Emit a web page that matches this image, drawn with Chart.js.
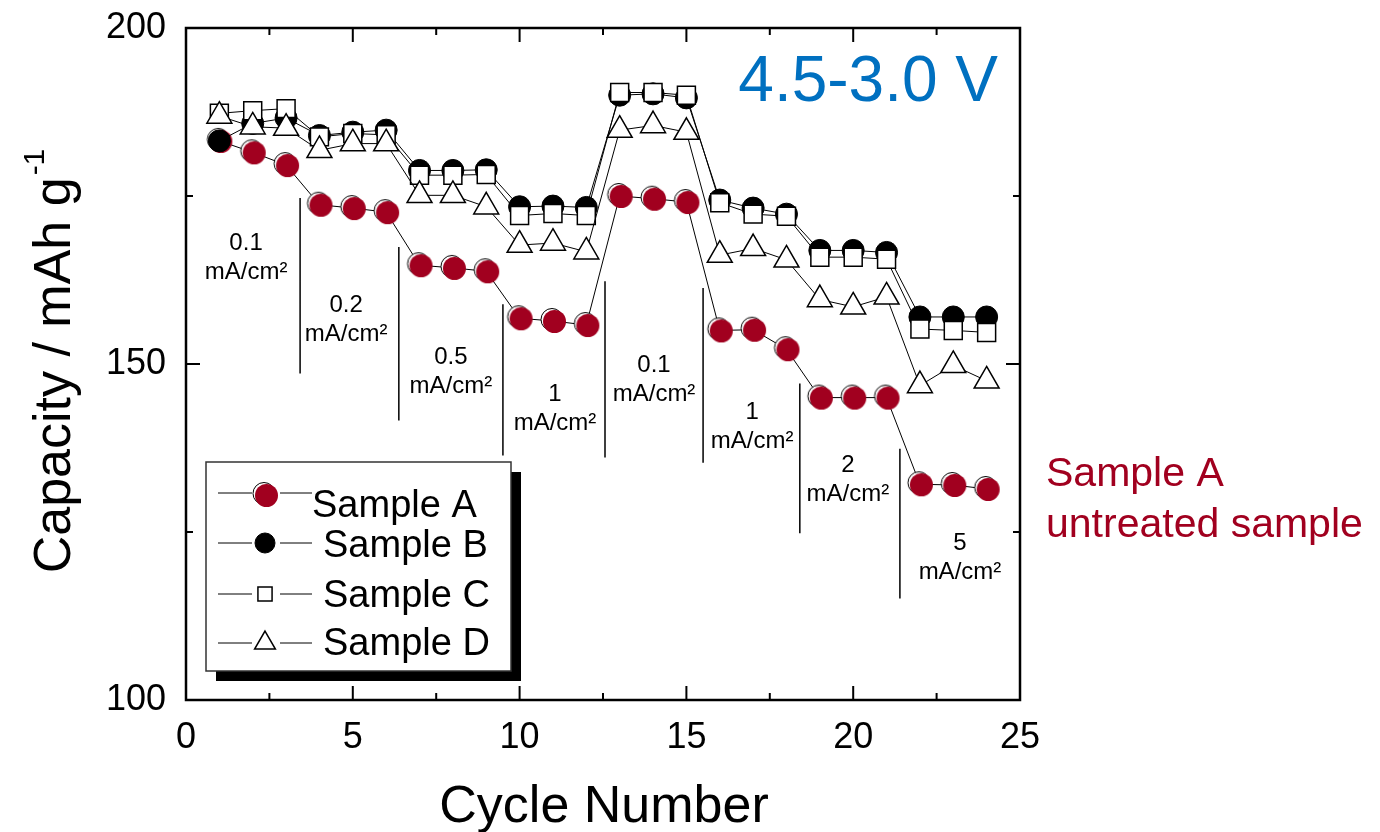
<!DOCTYPE html>
<html>
<head>
<title>Rate capability</title>
<script src="https://cdn.jsdelivr.net/npm/chart.js@4.4.0/dist/chart.umd.min.js"></script>
<style>
  body { margin: 0; background: #fff; }
</style>
</head>
<body>
<canvas id="rateChart" width="1380" height="832"></canvas>
<script>
// cycle numbers and capacities (mAh/g)
const cycles  = [1, 2, 3, 4, 5, 6, 7, 8, 9, 10, 11, 12, 13, 14, 15, 16, 17, 18, 19, 20, 21, 22, 23, 24];
const sampleA = [183.2, 181.5, 179.6, 173.7, 173.2, 172.6, 164.7, 164.3, 163.8, 156.8, 156.4, 155.8, 175.0, 174.6, 174.1, 155.0, 155.1, 152.2, 145.0, 145.0, 145.0, 132.1, 132.0, 131.4];
const sampleB = [183.2, 185.8, 186.6, 184.0, 184.5, 184.8, 178.8, 178.8, 178.9, 173.4, 173.5, 173.3, 190.0, 190.2, 189.6, 174.4, 173.2, 172.3, 166.9, 166.9, 166.6, 157.0, 157.0, 157.0];
const sampleC = [187.3, 187.7, 188.0, 183.8, 184.3, 184.1, 178.1, 178.1, 178.2, 172.1, 172.4, 172.1, 190.4, 190.4, 190.0, 174.0, 172.3, 172.0, 165.9, 165.9, 165.6, 155.2, 155.0, 154.7];
const sampleD = [186.9, 185.3, 185.1, 181.8, 182.8, 182.8, 175.1, 175.1, 173.4, 167.7, 168.0, 166.7, 184.8, 185.5, 184.5, 166.2, 167.2, 165.5, 159.6, 158.5, 160.0, 146.8, 149.8, 147.5];
const seriesNames = ['Sample A', 'Sample B', 'Sample C', 'Sample D'];

// x tick labels / y tick labels
const xTicks = [0, 5, 10, 15, 20, 25];
const yTicks = [100, 150, 200];

// current-density labels: text, and where they sit (cycle, capacity)
const rateLabels = ['0.1', '0.2', '0.5', '1', '0.1', '1', '2', '5'];
const rateLabelX = [1.8, 4.8, 7.94, 11.06, 14.03, 16.97, 19.84, 23.2];
const rateLabelY = [168.0, 158.7, 151.0, 145.5, 149.8, 142.8, 134.9, 123.3];
// vertical separators between rate steps
const dividerX      = [3.42, 6.38, 9.5, 12.56, 15.5, 18.4, 21.4];
const dividerTop    = [174.7, 167.4, 158.9, 162.3, 161.3, 147.1, 137.4];
const dividerBottom = [148.6, 141.6, 136.4, 136.1, 135.3, 124.8, 115.1];

const RED = '#A1001F';
const FONT = "'Liberation Sans', Arial, sans-serif";

// red dot with the offset outline behind it
function shadowDot() {
    const c = document.createElement('canvas');
    c.width = 36; c.height = 36;
    const g = c.getContext('2d');
    g.beginPath(); g.arc(17, 16.5, 11, 0, Math.PI * 2);
    g.fillStyle = '#fff'; g.fill();
    g.lineWidth = 1; g.strokeStyle = '#000'; g.stroke();
    g.beginPath(); g.arc(19.5, 18.5, 11.5, 0, Math.PI * 2);
    g.fillStyle = RED; g.fill();
    return c;
}
const redDot = shadowDot();

const toPts = arr => arr.map((v, i) => ({ x: cycles[i], y: v }));

const decor = {
    id: 'decor',
    afterDraw(chart) {
        const ctx = chart.ctx;
        const xs = chart.scales.x, ys = chart.scales.y;
        const a = chart.chartArea;
        ctx.save();

        // frame
        ctx.strokeStyle = '#000';
        ctx.lineWidth = 2.5;
        ctx.strokeRect(a.left, a.top, a.right - a.left, a.bottom - a.top);

        // inward ticks on all four sides
        ctx.lineWidth = 2;
        ctx.beginPath();
        for (let v = 0; v <= 25; v += 2.5) {
            const px = xs.getPixelForValue(v);
            const len = (v % 5 === 0) ? 14 : 7;
            ctx.moveTo(px, a.bottom); ctx.lineTo(px, a.bottom - len);
            ctx.moveTo(px, a.top); ctx.lineTo(px, a.top + len);
        }
        for (let v = 100; v <= 200; v += 25) {
            const py = ys.getPixelForValue(v);
            const len = (v % 50 === 0) ? 14 : 7;
            ctx.moveTo(a.left, py); ctx.lineTo(a.left + len, py);
            ctx.moveTo(a.right, py); ctx.lineTo(a.right - len, py);
        }
        ctx.stroke();

        // rate step separators
        ctx.lineWidth = 1.5;
        ctx.beginPath();
        dividerX.forEach((x, i) => {
            const px = xs.getPixelForValue(x);
            ctx.moveTo(px, ys.getPixelForValue(dividerTop[i]));
            ctx.lineTo(px, ys.getPixelForValue(dividerBottom[i]));
        });
        ctx.stroke();

        // rate labels
        ctx.fillStyle = '#000';
        ctx.textAlign = 'center';
        ctx.textBaseline = 'middle';
        ctx.font = '24px ' + FONT;
        rateLabels.forEach((t, i) => {
            const px = xs.getPixelForValue(rateLabelX[i]);
            const py = ys.getPixelForValue(rateLabelY[i]);
            ctx.fillText(t, px, py);
            ctx.fillText('mA/cm\u00B2', px, py + 29);
        });

        // voltage window
        ctx.fillStyle = '#0070C0';
        ctx.font = '64px ' + FONT;
        ctx.textAlign = 'right';
        ctx.textBaseline = 'alphabetic';
        ctx.fillText('4.5-3.0 V', 998, 101);

        // side note
        ctx.fillStyle = RED;
        ctx.font = '41px ' + FONT;
        ctx.textAlign = 'left';
        ctx.fillText('Sample A', 1046, 486);
        ctx.fillText('untreated sample', 1046, 537);

        // axis titles
        ctx.fillStyle = '#000';
        ctx.font = '52px ' + FONT;
        ctx.textAlign = 'center';
        ctx.fillText('Cycle Number', 604, 822);

        ctx.save();
        ctx.translate(70, 362);
        ctx.rotate(-Math.PI / 2);
        const main = 'Capacity / mAh g';
        ctx.font = '52px ' + FONT;
        const wMain = ctx.measureText(main).width;
        ctx.font = '30px ' + FONT;
        const wSup = ctx.measureText('-1').width;
        const start = -(wMain + wSup) / 2;
        ctx.textAlign = 'left';
        ctx.font = '52px ' + FONT;
        ctx.fillText(main, start, 0);
        ctx.font = '30px ' + FONT;
        ctx.fillText('-1', start + wMain + 2, -26);
        ctx.restore();

        // legend box with shadow
        const lx = 206, ly = 462, lw = 305, lh = 209;
        ctx.fillStyle = '#000';
        ctx.fillRect(lx + 10, ly + 10, lw, lh);
        ctx.fillStyle = '#fff';
        ctx.fillRect(lx, ly, lw, lh);
        ctx.strokeStyle = '#333';
        ctx.lineWidth = 1.5;
        ctx.strokeRect(lx, ly, lw, lh);

        const rows = [493, 543, 594, 643];
        const textX = [312, 323, 323, 323];
        const textY = [517, 557, 607, 655];
        chart.data.datasets.forEach((ds, i) => {
            const y = rows[i];
            ctx.strokeStyle = '#000';
            ctx.lineWidth = 1;
            ctx.beginPath();
            ctx.moveTo(218, y); ctx.lineTo(252, y);
            ctx.moveTo(280, y); ctx.lineTo(312, y);
            ctx.stroke();
            ctx.fillStyle = ds.pointBackgroundColor;
            ctx.strokeStyle = ds.pointBorderColor;
            ctx.lineWidth = ds.pointBorderWidth;
            Chart.helpers.drawPoint(ctx, {
                pointStyle: ds.pointStyle,
                radius: ds.legendRadius,
                borderWidth: ds.pointBorderWidth,
                rotation: 0
            }, 265, i === 0 ? y + 2 : y);
            ctx.fillStyle = '#000';
            ctx.font = '38px ' + FONT;
            ctx.textAlign = 'left';
            ctx.textBaseline = 'alphabetic';
            ctx.fillText(ds.label, textX[i], textY[i]);
        });

        ctx.restore();
    }
};

new Chart(document.getElementById('rateChart'), {
    type: 'line',
    data: {
        datasets: [
            {
                label: seriesNames[0], data: toPts(sampleA), order: 3,
                borderColor: '#000', borderWidth: 1,
                pointStyle: redDot, pointRadius: 12, legendRadius: 12,
                pointBackgroundColor: RED, pointBorderColor: RED, pointBorderWidth: 0
            },
            {
                label: seriesNames[1], data: toPts(sampleB), order: 2,
                borderColor: '#000', borderWidth: 1,
                pointStyle: 'circle', pointRadius: 11, legendRadius: 10,
                pointBackgroundColor: '#000', pointBorderColor: '#000', pointBorderWidth: 1
            },
            {
                label: seriesNames[2], data: toPts(sampleC), order: 1,
                borderColor: '#000', borderWidth: 1,
                pointStyle: 'rect', pointRadius: 12.7, legendRadius: 10,
                pointBackgroundColor: '#fff', pointBorderColor: '#000', pointBorderWidth: 1.5
            },
            {
                label: seriesNames[3], data: toPts(sampleD), order: 0,
                borderColor: '#000', borderWidth: 1,
                pointStyle: 'triangle', pointRadius: 14.4, legendRadius: 12,
                pointBackgroundColor: '#fff', pointBorderColor: '#000', pointBorderWidth: 1.5
            }
        ]
    },
    options: {
        responsive: false,
        animation: false,
        events: [],
        layout: { padding: { left: 0, top: 28, right: 360, bottom: 0 } },
        plugins: { legend: { display: false }, tooltip: { enabled: false } },
        scales: {
            x: {
                type: 'linear', min: 0, max: 25,
                grid: { display: false, drawTicks: false },
                border: { display: false },
                afterBuildTicks: s => { s.ticks = xTicks.map(v => ({ value: v })); },
                afterFit: s => { s.height = 132; s.paddingLeft = 0; s.paddingRight = 0; },
                ticks: { padding: 16, color: '#000', font: { family: FONT, size: 36 } }
            },
            y: {
                type: 'linear', min: 100, max: 200,
                grid: { display: false, drawTicks: false },
                border: { display: false },
                afterBuildTicks: s => { s.ticks = yTicks.map(v => ({ value: v })); },
                afterFit: s => { s.width = 186; s.paddingTop = 0; s.paddingBottom = 0; },
                ticks: { padding: 20, color: '#000', font: { family: FONT, size: 36 } }
            }
        }
    },
    plugins: [decor]
});
</script>
</body>
</html>
